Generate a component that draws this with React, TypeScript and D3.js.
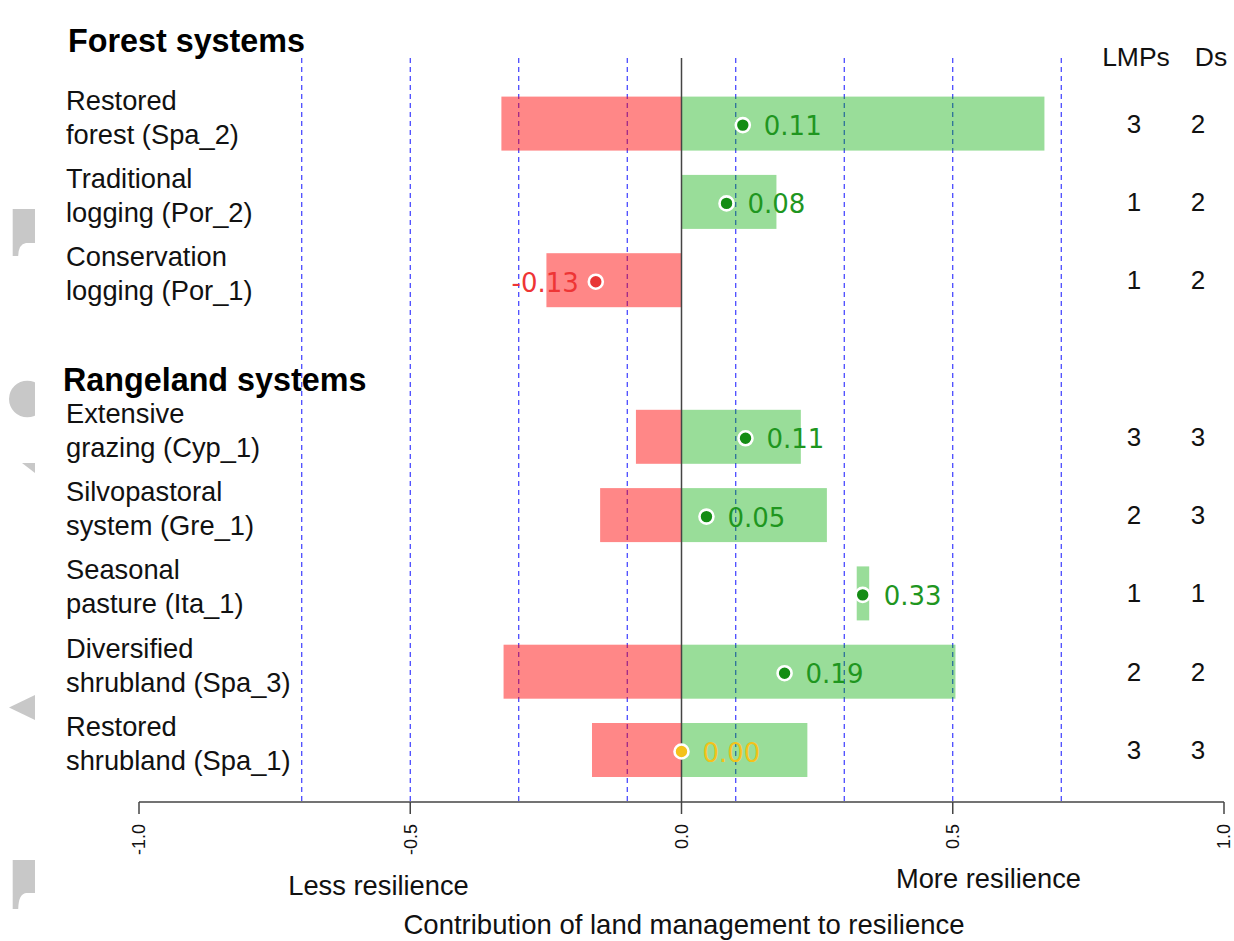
import React from "react";
import * as d3 from "d3";

const groupNames = ["Forest systems", "Rangeland systems"];
const rowGroup = [0, 0, 0, 1, 1, 1, 1, 1];
const labelLine1 = ["Restored", "Traditional", "Conservation", "Extensive", "Silvopastoral", "Seasonal", "Diversified", "Restored"];
const labelLine2 = ["forest (Spa_2)", "logging (Por_2)", "logging (Por_1)", "grazing (Cyp_1)", "system (Gre_1)", "pasture (Ita_1)", "shrubland (Spa_3)", "shrubland (Spa_1)"];
const rangeLow = [-0.332, 0, -0.249, -0.084, -0.15, 0.323, -0.328, -0.165];
const rangeHigh = [0.669, 0.175, 0, 0.22, 0.268, 0.346, 0.505, 0.232];
const pointValue = [0.113, 0.083, -0.158, 0.118, 0.046, 0.334, 0.19, 0.0];
const pointLabel = ["0.11", "0.08", "-0.13", "0.11", "0.05", "0.33", "0.19", "0.00"];
const lmps = [3, 1, 1, 3, 2, 1, 2, 3];
const ds = [2, 2, 2, 3, 3, 1, 2, 3];
const xTicks = [-1, -0.5, 0, 0.5, 1];
const xTickLabels = ["-1.0", "-0.5", "0.0", "0.5", "1.0"];
const gridLines = [-0.7, -0.5, -0.3, -0.1, 0.1, 0.3, 0.5, 0.7];

const W = 1234;
const H = 941;
const SANS = "'Liberation Sans', Arial, Helvetica, sans-serif";
const DEJAVU = "'DejaVu Sans', sans-serif";

export default function App() {
  const x = d3.scaleLinear().domain([-1, 1]).range([139, 1224]);
  const y = d3.scaleLinear().domain([0, 8]).range([123.6, 750]);
  const rowY = (i: number) => y(i + rowGroup[i]);
  const barH = 54;
  const axisY = 802;
  const plotTop = 58;

  const pointColor = (v: number) => (v > 0.001 ? "#148c14" : v < -0.001 ? "#e83434" : "#f4c21a");
  const textColor = (v: number) => (v > 0.001 ? "#1f961f" : v < -0.001 ? "#ee3535" : "#f4c21a");

  const headingY = [y(-0.91), y(3.41)];
  const headingX = [68, 63];

  return (
    <svg width={W} height={H} style={{ position: "absolute", left: 0, top: 0, background: "#fff" }}>
      <rect x={0} y={0} width={W} height={H} fill="#fff" />
      {/* decorative cropped shapes at left edge */}
      <g fill="#c8c8c8">
        <path d="M12.7,209 H35 V243 H26 Q18.5,244 18.2,256 H12.7 Z" />
        <path d="M12.7,860 H35 V893 H26 Q18.5,894 18.2,909 H12.7 Z" />
        <clipPath id="lc">
          <rect x={0} y={370} width={35} height={60} />
        </clipPath>
        <circle cx={27.3} cy={399} r={18.3} clipPath="url(#lc)" />
        <path d="M22,463 L35,463 L35,473 Z" />
        <path d="M35,695 L35,720 L9,707.5 Z" />
      </g>

      {/* dashed reference lines */}
      {gridLines.map((g, i) => (
        <line key={"g" + i} x1={x(g)} x2={x(g)} y1={plotTop} y2={axisY} stroke="#2a2aff" strokeWidth={1.1} strokeDasharray="5,4" />
      ))}

      {/* bars */}
      {rangeLow.map((lo, i) => {
        const hi = rangeHigh[i];
        const cy = rowY(i);
        const parts = [];
        if (lo < 0) {
          const a = lo, b = Math.min(hi, 0);
          parts.push(<rect key={"r" + i} x={x(a)} width={x(b) - x(a)} y={cy - barH / 2} height={barH} fill="rgb(255,0,0)" fillOpacity={0.47} />);
        }
        if (hi > 0) {
          const a = Math.max(lo, 0), b = hi;
          parts.push(<rect key={"gr" + i} x={x(a)} width={x(b) - x(a)} y={cy - barH / 2} height={barH} fill="rgb(0,170,0)" fillOpacity={0.4} />);
        }
        return <g key={"b" + i}>{parts}</g>;
      })}

      {/* zero line */}
      <line x1={x(0)} x2={x(0)} y1={plotTop} y2={axisY} stroke="#444" strokeWidth={1.5} />

      {/* points and labels */}
      {pointValue.map((v, i) => {
        const cy = rowY(i) + 1.5;
        const cx = x(v);
        const neg = v < -0.001;
        return (
          <g key={"p" + i}>
            <circle cx={cx} cy={cy} r={7} fill={pointColor(v)} stroke="#fff" strokeWidth={2.6} />
            <text
              x={neg ? cx - 17 : cx + 21}
              y={cy + 10}
              textAnchor={neg ? "end" : "start"}
              fontFamily={DEJAVU}
              fontSize={26}
              fill={textColor(v)}
            >
              {pointLabel[i]}
            </text>
          </g>
        );
      })}

      {/* headings */}
      {groupNames.map((g, i) => (
        <text key={"h" + i} x={headingX[i]} y={headingY[i]} fontFamily={SANS} fontWeight="bold" fontSize={32.3} fill="#000">
          {g}
        </text>
      ))}

      {/* row labels */}
      {labelLine1.map((l, i) => {
        const cy = rowY(i);
        return (
          <text key={"l" + i} x={66} y={cy - 14} fontFamily={SANS} fontSize={27.3} fill="#111">
            <tspan x={66}>{l}</tspan>
            <tspan x={66} dy={34}>{labelLine2[i]}</tspan>
          </text>
        );
      })}

      {/* LMPs / Ds columns */}
      <text x={1136} y={66} textAnchor="middle" fontFamily={SANS} fontSize={26.5} fill="#111">LMPs</text>
      <text x={1211} y={66} textAnchor="middle" fontFamily={SANS} fontSize={26.5} fill="#111">Ds</text>
      {lmps.map((v, i) => (
        <text key={"lm" + i} x={1134} y={rowY(i) + 9} textAnchor="middle" fontFamily={SANS} fontSize={26} fill="#111">
          {v}
        </text>
      ))}
      {ds.map((v, i) => (
        <text key={"ds" + i} x={1198} y={rowY(i) + 9} textAnchor="middle" fontFamily={SANS} fontSize={26} fill="#111">
          {v}
        </text>
      ))}

      {/* x axis */}
      <line x1={x(-1)} x2={x(1)} y1={axisY} y2={axisY} stroke="#444" strokeWidth={1.5} />
      {xTicks.map((t, i) => (
        <g key={"t" + i}>
          <line x1={x(t)} x2={x(t)} y1={axisY} y2={axisY + 12} stroke="#444" strokeWidth={1.5} />
          <text
            transform={`translate(${x(t)},${axisY + 22}) rotate(-90)`}
            textAnchor="end"
            dy="0.35em"
            fontFamily={SANS}
            fontSize={18}
            fill="#111"
          >
            {xTickLabels[i]}
          </text>
        </g>
      ))}
      <text x={378.5} y={895} textAnchor="middle" fontFamily={SANS} fontSize={27.3} fill="#111">Less resilience</text>
      <text x={988.5} y={888} textAnchor="middle" fontFamily={SANS} fontSize={27.3} fill="#111">More resilience</text>
      <text x={684} y={934} textAnchor="middle" fontFamily={SANS} fontSize={27.5} fill="#111">
        Contribution of land management to resilience
      </text>
    </svg>
  );
}
